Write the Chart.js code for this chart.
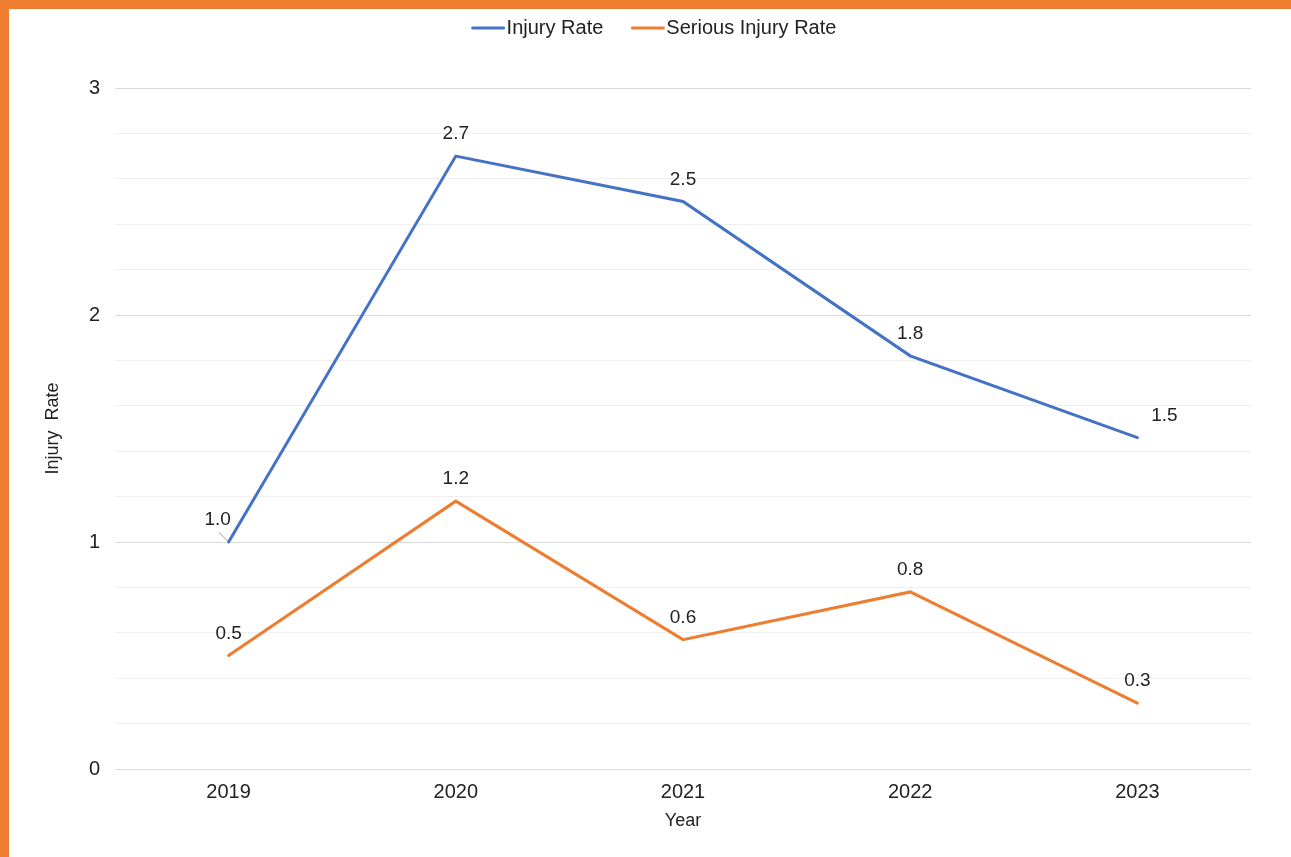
<!DOCTYPE html>
<html>
<head>
<meta charset="utf-8">
<script src="https://cdn.jsdelivr.net/npm/chart.js@4/dist/chart.umd.min.js"></script>
<style>
  html, body { margin: 0; padding: 0; background: #fff; }
  #frame { width: 1282px; height: 848px; border-left: 9px solid #ED7D31; border-top: 9px solid #ED7D31; background: #fff; }
  #wrap { position: relative; width: 1282px; height: 848px; }
</style>
</head>
<body>
<div id="frame"><div id="wrap"><canvas id="c" width="1282" height="848"></canvas></div></div>
<script>
const categories = ['2019', '2020', '2021', '2022', '2023'];
const injuryRate = [1.0, 2.7, 2.5, 1.82, 1.46];
const seriousInjuryRate = [0.5, 1.18, 0.57, 0.78, 0.29];
const seriesNames = ['Injury Rate', 'Serious Injury Rate'];
const yAxisTitle = 'Injury  Rate';
const xAxisTitle = 'Year';

const BLUE = '#4472C4';
const ORANGE = '#ED7D31';
const FONT = "Arial, 'Liberation Sans', sans-serif";
const TEXT = '#222222';

// label nudges (style, not data): [datasetIndex, pointIndex] -> {dx, dy, leader}
const labelNudges = { '0-0': { dx: -11, dy: 0, leader: true }, '0-4': { dx: 27, dy: 0 } };

const dataLabels = {
  id: 'dataLabels',
  afterDatasetsDraw(chart) {
    const ctx = chart.ctx;
    ctx.save();
    ctx.font = '19px ' + FONT;
    ctx.fillStyle = TEXT;
    ctx.textAlign = 'center';
    ctx.textBaseline = 'middle';
    chart.data.datasets.forEach((ds, di) => {
      const meta = chart.getDatasetMeta(di);
      meta.data.forEach((pt, i) => {
        const n = labelNudges[di + '-' + i] || { dx: 0, dy: 0 };
        const x = pt.x + n.dx, y = pt.y - 22 + n.dy;
        if (n.leader) {
          ctx.strokeStyle = '#a0a0a0';
          ctx.lineWidth = 1;
          ctx.beginPath();
          ctx.moveTo(pt.x - 10, pt.y - 10);
          ctx.lineTo(pt.x - 1, pt.y - 1);
          ctx.stroke();
        }
        ctx.fillText(Number(ds.data[i]).toFixed(1), x, y);
      });
    });
    ctx.restore();
  }
};

const topLegend = {
  id: 'topLegend',
  afterDraw(chart) {
    const ctx = chart.ctx;
    ctx.save();
    ctx.font = '20px ' + FONT;
    const lineW = 33, gap = 2, itemGap = 28;
    const items = chart.data.datasets.map(d => ({ label: d.label, color: d.borderColor, w: ctx.measureText(d.label).width }));
    let total = 0;
    items.forEach((it, i) => { total += lineW + gap + it.w + (i ? itemGap : 0); });
    let x = chart.width / 2 + 4 - total / 2;
    const y = 19;
    ctx.textBaseline = 'middle';
    ctx.textAlign = 'left';
    items.forEach((it) => {
      ctx.strokeStyle = it.color;
      ctx.lineWidth = 3;
      ctx.lineCap = 'round';
      ctx.beginPath();
      ctx.moveTo(x + 1, y);
      ctx.lineTo(x + lineW - 1, y);
      ctx.stroke();
      ctx.fillStyle = TEXT;
      ctx.fillText(it.label, x + lineW + gap, y);
      x += lineW + gap + it.w + itemGap;
    });
    ctx.restore();
  }
};

new Chart(document.getElementById('c'), {
  type: 'line',
  data: {
    labels: categories,
    datasets: [
      { label: seriesNames[0], data: injuryRate, borderColor: BLUE, backgroundColor: BLUE, borderWidth: 3, pointRadius: 0, tension: 0, borderCapStyle: 'round' },
      { label: seriesNames[1], data: seriousInjuryRate, borderColor: ORANGE, backgroundColor: ORANGE, borderWidth: 3, pointRadius: 0, tension: 0, borderCapStyle: 'round' }
    ]
  },
  options: {
    responsive: false,
    animation: false,
    events: [],
    layout: { padding: { top: 79, right: 40, left: 0, bottom: 0 } },
    plugins: { legend: { display: false }, tooltip: { enabled: false } },
    scales: {
      x: {
        offset: true,
        grid: { display: false, drawTicks: false },
        border: { display: false },
        ticks: { color: TEXT, font: { family: FONT, size: 20 }, padding: 11, maxRotation: 0 },
        title: { display: true, text: xAxisTitle, color: TEXT, font: { family: FONT, size: 18 }, padding: { top: 0, bottom: 25 } },
        afterFit(s) { s.height = 88; }
      },
      y: {
        min: 0, max: 3,
        grid: {
          drawTicks: false,
          lineWidth: 1,
          color: (c) => Math.abs(c.tick.value - Math.round(c.tick.value)) < 1e-6 ? '#dadada' : '#efefef'
        },
        border: { display: false },
        ticks: {
          stepSize: 0.2,
          autoSkip: false,
          color: TEXT,
          font: { family: FONT, size: 20 },
          padding: 15,
          callback: (v) => Math.abs(v - Math.round(v)) < 1e-6 ? String(Math.round(v)) : ''
        },
        title: { display: true, text: yAxisTitle, color: TEXT, font: { family: FONT, size: 18 }, padding: { top: 33, bottom: 0 } },
        afterFit(s) { s.width = 106; }
      }
    }
  },
  plugins: [dataLabels, topLegend]
});
</script>
</body>
</html>
